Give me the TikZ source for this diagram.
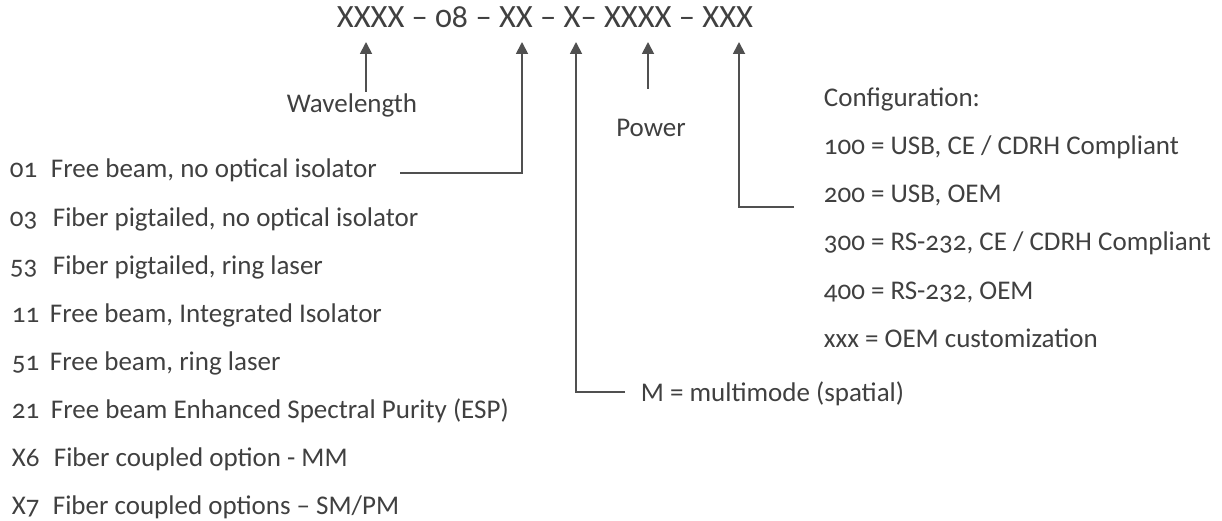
\documentclass[tikz,border=0pt]{standalone}
\usepackage{fontspec}
\setmainfont{Carlito}[Numbers=OldStyle]
\usetikzlibrary{arrows.meta}
\definecolor{txtgray}{HTML}{404040}
\definecolor{linegray}{HTML}{505050}

\begin{document}
\begin{tikzpicture}[x=1pt,y=-1pt,->,>={Triangle[width=12pt,length=12pt]},
            line width=1.8pt,draw=linegray,
            every node/.style={text=txtgray,inner sep=0pt,font=\fontsize{27}{32}\selectfont},
            label node/.style={anchor=base west},
            title node/.style={anchor=base west,font=\fontsize{32.5}{38}\selectfont}]

        \useasboundingbox (0,0) rectangle (1222,521);

        % Define part number and labels
        \node[title node] (part) at (336,28) {XXXX – 08 – XX – X– XXXX – XXX};
        \node[anchor=base] (wave) at (352,113) {Wavelength};
        \node[anchor=base] (power) at (651,137) {Power};
        \node[label node] (mode) at (640,401) {M = multimode (spatial)};

        % Define option list
        \node[label node] (n01) at (9,178) {01};
        \node[label node] (d01) at (50,178) {Free beam, no optical isolator};
        \node[label node] (n03) at (9,226) {03};
        \node[label node] (d03) at (52,226) {Fiber pigtailed, no optical isolator};
        \node[label node] (n53) at (9,274) {53};
        \node[label node] (d53) at (52,274) {Fiber pigtailed, ring laser};
        \node[label node] (n11) at (11,322) {11};
        \node[label node] (d11) at (49,322) {Free beam, Integrated Isolator};
        \node[label node] (n51) at (11,370) {51};
        \node[label node] (d51) at (49,370) {Free beam, ring laser};
        \node[label node] (n21) at (11,418) {21};
        \node[label node] (d21) at (50,418) {Free beam Enhanced Spectral Purity (ESP)};
        \node[label node] (nX6) at (11,466) {X6};
        \node[label node] (dX6) at (53,466) {Fiber coupled option - MM};
        \node[label node] (nX7) at (11,514) {X7};
        \node[label node] (dX7) at (52,514) {Fiber coupled options – SM/PM};

        % Define configuration list
        \node[label node] (cfg) at (823,107) {Configuration:};
        \node[label node] (c100) at (823,155) {100 = USB, CE / CDRH Compliant};
        \node[label node] (c200) at (823,203) {200 = USB, OEM};
        \node[label node] (c300) at (823,251) {300 = RS-232, CE / CDRH Compliant};
        \node[label node] (c400) at (823,299) {400 = RS-232, OEM};
        \node[label node] (cxxx) at (823,347) {xxx = OEM customization};

        % Define arrow ends
        \coordinate (tWave) at (366,42);
        \coordinate (tOpt) at (522,42);
        \coordinate (tMode) at (576,42);
        \coordinate (tPow) at (648,42);
        \coordinate (tCfg) at (739,42);
        \coordinate (eWave) at (366,92);
        \coordinate (eOpt) at (400,173);
        \coordinate (eMode) at (625,392);
        \coordinate (ePow) at (648,89);
        \coordinate (eCfg) at (794,207);

        % Draw arrows
        \draw (eWave) -- (tWave);
        \draw (eOpt) -| (tOpt);
        \draw (eMode) -| (tMode);
        \draw (ePow) -- (tPow);
        \draw (eCfg) -| (tCfg);

\end{tikzpicture}
\end{document}
